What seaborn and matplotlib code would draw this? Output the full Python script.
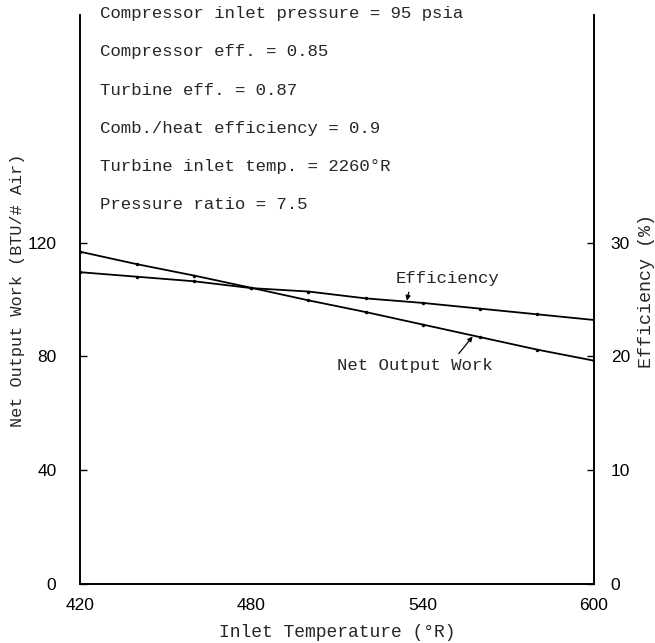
import matplotlib
matplotlib.use("Agg")
import matplotlib.pyplot as plt
import seaborn as sns
import pandas as pd

temps = [420, 440, 460, 480, 500, 520, 540, 560, 580, 600]
net_work = [116.8, 112.4, 108.4, 104.1, 99.7, 95.6, 91.2, 86.8, 82.4, 78.5]
efficiency = [27.4, 27.0, 26.6, 26.0, 25.7, 25.1, 24.7, 24.2, 23.7, 23.2]
left_ticks = [0, 40, 80, 120]
right_ticks = [0, 10, 20, 30]
x_ticks = [420, 480, 540, 600]
notes = ["Compressor inlet pressure = 95 psia",
         "Compressor eff. = 0.85",
         "Turbine eff. = 0.87",
         "Comb./heat efficiency = 0.9",
         "Turbine inlet temp. = 2260°R",
         "Pressure ratio = 7.5"]

sns.set_style("white")
plt.rcParams['font.family'] = ['Liberation Sans', 'DejaVu Sans']
mono = ['Liberation Mono', 'DejaVu Sans Mono']

fig = plt.figure(figsize=(6.55, 6.43), dpi=100)
ax = fig.add_axes([80/655, 59/643, 514/655, 569/643])
df = pd.DataFrame({"T": temps, "W": net_work, "E": efficiency})

sns.lineplot(data=df, x="T", y="W", ax=ax, color="black", lw=1.3,
             marker="o", markersize=2.5, markeredgewidth=0)
ax2 = ax.twinx()
sns.lineplot(data=df, x="T", y="E", ax=ax2, color="black", lw=1.3,
             marker="o", markersize=2.5, markeredgewidth=0)

ax.set_xlim(420, 600)
ax.set_ylim(0, 200)
ax2.set_ylim(0, 50)
ax.set_xticks(x_ticks)
ax.set_yticks(left_ticks)
ax2.set_yticks(right_ticks)
for a in (ax, ax2):
    a.spines['top'].set_visible(False)
    for s in a.spines.values():
        s.set_color("black")
        s.set_linewidth(1.2)
    a.tick_params(direction="in", length=5, width=1, colors="black",
                  labelsize=12.5)
ax.tick_params(axis="x", pad=10)
ax.tick_params(axis="y", pad=17)
ax2.tick_params(axis="y", pad=12)

ax.set_xlabel("Inlet Temperature (°R)", family=mono, fontsize=13, labelpad=8)
ax.set_ylabel("Net Output Work (BTU/# Air)", family=mono, fontsize=12.2)
ax.yaxis.set_label_coords(-0.121, 0.517)
ax2.set_ylabel("Efficiency (%)", family=mono, fontsize=13.2)
ax2.yaxis.set_label_coords(1.102, 0.515)
ax2.yaxis.label.set_va("center")
ax.yaxis.label.set_va("center")

note_y = [200.4, 187.0, 173.6, 160.2, 146.8, 133.4]
for t, yv in zip(notes, note_y):
    ax.text(427, yv, t, family=mono, fontsize=12.5, va="center", ha="left",
            clip_on=False)

ax.annotate("Efficiency", xy=(534.5, 99.6), xytext=(530.5, 107.3),
            family=mono, fontsize=12.5, va="center", ha="left",
            arrowprops=dict(arrowstyle="-|>", color="black", lw=0.9,
                            mutation_scale=7, shrinkA=2, shrinkB=0,
                            relpos=(0.14, 0.0)))
ax.annotate("Net Output Work", xy=(557.5, 87.0), xytext=(510, 76.8),
            family=mono, fontsize=12.5, va="center", ha="left",
            arrowprops=dict(arrowstyle="-|>", color="black", lw=0.9,
                            mutation_scale=7, shrinkA=1, shrinkB=0,
                            relpos=(0.76, 1.0)))

fig.savefig("out.png", dpi=100)
